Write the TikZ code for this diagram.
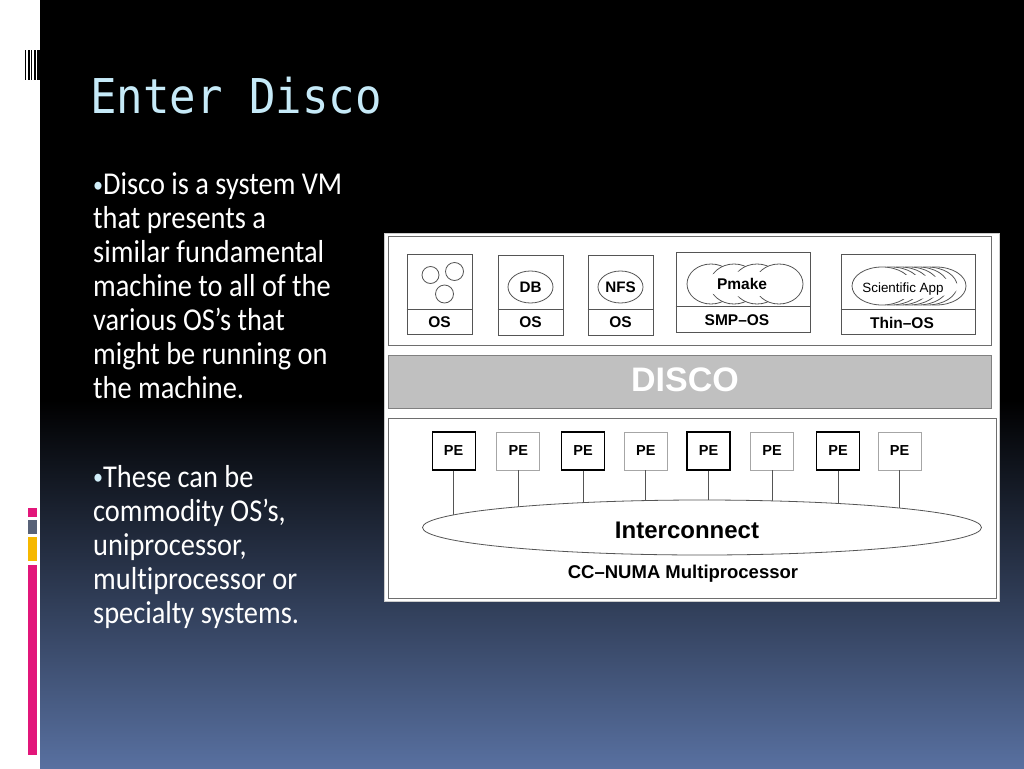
\documentclass[tikz,border=0pt]{standalone}
\usepackage{fontspec}
\setmainfont{Carlito}[Ligatures=NoCommon]
\newfontfamily\arialf{Liberation Sans}[Ligatures=NoCommon]
\newfontfamily\monof{DejaVu Sans Mono}
\usetikzlibrary{shapes.geometric,calc}
\definecolor{titlecol}{RGB}{198,234,248}
\definecolor{bgmid}{RGB}{30,40,62}
\definecolor{bgbot}{RGB}{88,112,160}
\definecolor{barpink}{RGB}{226,22,122}
\definecolor{bargray}{RGB}{88,98,120}
\definecolor{baryellow}{RGB}{246,184,0}
\definecolor{boxgray}{RGB}{85,85,85}
\definecolor{panelgray}{RGB}{110,110,110}
\definecolor{discofill}{RGB}{192,192,192}
\newcommand{\bulletmark}{{\color{titlecol!80!white}\fontsize{20}{20}\selectfont\raisebox{2pt}{•}}}
\tikzset{
  panel/.style={draw=panelgray, line width=0.9pt, fill=white, inner sep=0pt},
  osbox/.style={draw=boxgray, line width=0.9pt, fill=white, inner sep=0pt, minimum width=65pt, minimum height=80pt},
  bigbox/.style={osbox, minimum width=134pt},
  divline/.style={draw=boxgray, line width=0.9pt},
  lbl/.style={font=\arialf\bfseries\fontsize{15.5}{17}\selectfont, inner sep=0pt},
  appell/.style={ellipse, draw=boxgray, line width=0.8pt, fill=white, inner sep=0pt, minimum width=45pt, minimum height=32pt, font=\arialf\bfseries\fontsize{15.2}{17}\selectfont},
  lobe/.style={draw=boxgray, line width=0.8pt, fill=white},
  pedark/.style={draw=black, line width=1.2pt, fill=white, minimum width=43pt, minimum height=38pt, inner sep=0pt, font=\arialf\bfseries\fontsize{14.5}{16}\selectfont},
  pelight/.style={draw=gray!70, line width=0.9pt, fill=white, minimum width=43pt, minimum height=38pt, inner sep=0pt, font=\arialf\bfseries\fontsize{14.5}{16}\selectfont},
  peline/.style={draw=boxgray, line width=0.8pt},
  bodytext/.style={anchor=base west, inner sep=0pt, text=white},
}
\begin{document}
\begin{tikzpicture}[x=1pt,y=-1pt]
\useasboundingbox (0,0) rectangle (1024,768);
% background
\fill[white] (0,0) rectangle (40,768);
\fill[black] (40,0) rectangle (1024,768);
\shade[top color=black, middle color=bgmid, bottom color=bgbot] (40,400) rectangle (1024,768);
% barcode
\fill[black] (25,50) rectangle (26,80);
\fill[black] (28,50) rectangle (29.5,80);
\fill[black] (31,50) rectangle (32,80);
\fill[black] (33.5,50) rectangle (35.5,80);
\fill[black] (37,50) rectangle (40,80);
% colour bars
\fill[barpink] (28,508) rectangle (37,517);
\fill[bargray] (28,520) rectangle (37,534);
\fill[baryellow] (28,537) rectangle (37,561);
\fill[barpink] (28,565) rectangle (37,755);
% title
\node[anchor=base west, inner sep=0pt, text=titlecol, font=\monof\fontsize{44}{50}\selectfont] (title) at (90,113) {\scalebox{1}[1.09]{Enter Disco}};
% body text
\node[bodytext] (para1) at (93,173) {\scalebox{1}[1.12]{\parbox[t]{300pt}{\fontsize{28.4}{30.36}\selectfont\raggedright
\bulletmark Disco is a system VM\\that presents a\\similar fundamental\\machine to all of the\\various OS’s that\\might be running on\\the machine.}}};
\node[bodytext] (para2) at (93,465) {\scalebox{1}[1.12]{\parbox[t]{300pt}{\fontsize{28.4}{30.36}\selectfont\raggedright
\bulletmark These can be\\commodity OS’s,\\uniprocessor,\\multiprocessor or\\specialty systems.}}};
% diagram frame
\node[draw=gray!40, fill=white, minimum width=615pt, minimum height=368pt, inner sep=0pt] (diag) at (691.5,417) {};
\node[panel, minimum width=603pt, minimum height=109pt] (toppanel) at (689.5,290.5) {};
\node[draw=gray, line width=0.9pt, fill=discofill, minimum width=603pt, minimum height=53pt, inner sep=0pt] (disco) at (689.5,381.5) {};
\node[text=white, inner sep=0pt, font=\arialf\bfseries\fontsize{34}{38}\selectfont] (discotext) at (685,380) {DISCO};
\node[panel, minimum width=608pt, minimum height=180pt] (botpanel) at (692,508) {};
% OS boxes
\node[osbox] (os1) at (439.5,294.5) {};
\node[osbox] (os2) at (530.5,295) {};
\node[osbox] (os3) at (620.5,295) {};
\node[bigbox] (os4) at (743,292) {};
\node[bigbox] (os5) at (908,294.5) {};
\foreach \b in {os1,os2,os3,os4,os5}{
  \draw[divline] ([yshift=26pt]\b.south west) -- ([yshift=26pt]\b.south east);
}
\node[lbl] (os1l) at ([yshift=13pt]os1.south) {OS};
\node[lbl] (os2l) at ([yshift=13pt]os2.south) {OS};
\node[lbl] (os3l) at ([yshift=13pt]os3.south) {OS};
\node[lbl] (os4l) at ([xshift=-6pt,yshift=12pt]os4.south) {SMP–OS};
\node[lbl] (os5l) at ([xshift=-6pt,yshift=12pt]os5.south) {Thin–OS};
% circles in first box
\draw[lobe] (430.5,275) circle (8.5);
\draw[lobe] (454.5,271.5) circle (9);
\draw[lobe] (444.5,294) circle (9);
% DB / NFS
\node[appell] (db) at (530.5,287) {DB};
\node[appell] (nfs) at (620.5,287) {NFS};
% Pmake cloud
\foreach \cx in {711,734,757,779}{
  \draw[lobe] (\cx,284) ellipse (24 and 20);
}
\fill[white] (745,284) ellipse (52 and 12.5);
\node[inner sep=0pt, font=\arialf\bfseries\fontsize{15.5}{17}\selectfont] (pmake) at (742,284) {Pmake};
% Scientific App cloud
\foreach \cx in {936,927,918,909,900,891,882}{
  \draw[lobe] (\cx,286) ellipse (30 and 19);
}
\fill[white] (909,287) ellipse (50 and 12);
\node[inner sep=0pt, font=\arialf\fontsize{13.4}{15}\selectfont] (sciapp) at (903,289) {Scientific App};
% PEs
\node[pedark] (pe1) at (453.6,451) {PE};
\node[pelight] (pe2) at (518.3,451) {PE};
\node[pedark] (pe3) at (583,451) {PE};
\node[pelight] (pe4) at (645.8,451) {PE};
\node[pedark] (pe5) at (708.5,451) {PE};
\node[pelight] (pe6) at (772,451) {PE};
\node[pedark] (pe7) at (838,451) {PE};
\node[pelight] (pe8) at (899.5,451) {PE};
\coordinate (icc) at (702,527.5);
\foreach \p in {pe1,pe2,pe3,pe4,pe5,pe6,pe7,pe8}{
  \draw[peline] (\p.south) -- (\p.south |- icc);
}
\node[ellipse, draw=boxgray, line width=0.8pt, fill=white, minimum width=559pt, minimum height=55pt, inner sep=0pt] (ic) at (icc) {};
\node[inner sep=0pt, font=\arialf\bfseries\fontsize{24}{28}\selectfont] (ictext) at (687,530) {Interconnect};
\node[inner sep=0pt, font=\arialf\bfseries\fontsize{18.5}{20}\selectfont] (ccnuma) at (683,574) {CC–NUMA Multiprocessor};
\end{tikzpicture}
\end{document}
